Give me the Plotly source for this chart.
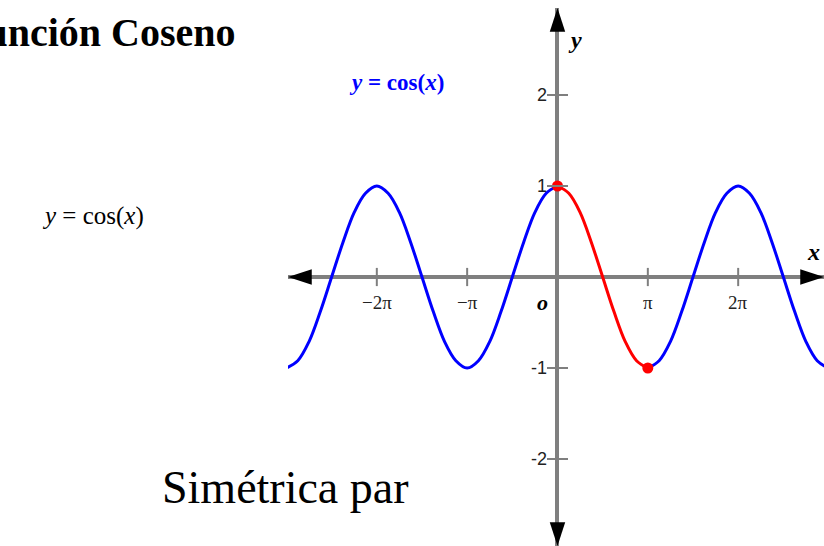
import plotly.graph_objects as go

# ---- data (x in units of π) ----
left_x = [-3, -2.875, -2.75, -2.625, -2.5, -2.375, -2.25, -2.125, -2,
          -1.875, -1.75, -1.625, -1.5, -1.375, -1.25, -1.125, -1,
          -0.875, -0.75, -0.625, -0.5, -0.375, -0.25, -0.125, 0]
left_y = [-1, -0.92, -0.71, -0.38, 0, 0.38, 0.71, 0.92, 1,
          0.92, 0.71, 0.38, 0, -0.38, -0.71, -0.92, -1,
          -0.92, -0.71, -0.38, 0, 0.38, 0.71, 0.92, 1]
red_x = [0, 0.125, 0.25, 0.375, 0.5, 0.625, 0.75, 0.875, 1]
red_y = [1, 0.92, 0.71, 0.38, 0, -0.38, -0.71, -0.92, -1]
right_x = [1, 1.125, 1.25, 1.375, 1.5, 1.625, 1.75, 1.875, 2,
           2.125, 2.25, 2.375, 2.5, 2.625, 2.75, 2.875, 3]
right_y = [-1, -0.92, -0.71, -0.38, 0, 0.38, 0.71, 0.92, 1,
           0.92, 0.71, 0.38, 0, -0.38, -0.71, -0.92, -1]
dot_x = [0, 1]
dot_y = [1, -1]
xtick_vals = [-2, -1, 1, 2]
xtick_labels = ["−2π", "−π", "π", "2π"]
ytick_vals = [2, 1, -1, -2]
ytick_labels = ["2", "1", "-1", "-2"]
x_range = [-2.983, 2.95]
y_range = [-2.956, 2.956]
arrow_x = [x_range[0], x_range[1], 0, 0]
arrow_y = [0, 0, y_range[1], y_range[0]]
arrow_angle = [270, 90, 0, 180]

W, H = 824, 546
SERIF = "Liberation Serif, Times New Roman, serif"
SANS = "Liberation Sans, Arial, sans-serif"
AXIS_GREY = "#7f7f7f"
BLUE = "#0000ff"
RED = "#ff0000"


def px(x):
    return x / W


def py(y):
    return 1 - y / H


fig = go.Figure()

for xs, ys, col in [(left_x, left_y, BLUE), (right_x, right_y, BLUE), (red_x, red_y, RED)]:
    fig.add_trace(go.Scatter(x=xs, y=ys, mode="lines",
                             line=dict(color=col, width=3, shape="spline"),
                             hoverinfo="skip"))
fig.add_trace(go.Scatter(x=dot_x, y=dot_y, mode="markers",
                         marker=dict(color=RED, size=11),
                         hoverinfo="skip"))
# tick marks crossing the axes
fig.add_trace(go.Scatter(x=xtick_vals, y=[0] * len(xtick_vals), mode="markers",
                         marker=dict(symbol="line-ns", size=13,
                                     line=dict(color=AXIS_GREY, width=2)),
                         hoverinfo="skip"))
fig.add_trace(go.Scatter(x=[0] * len(ytick_vals), y=ytick_vals, mode="markers",
                         marker=dict(symbol="line-ew", size=15,
                                     line=dict(color=AXIS_GREY, width=2)),
                         hoverinfo="skip"))
# arrow heads at the axis ends
fig.add_trace(go.Scatter(x=arrow_x, y=arrow_y, mode="markers",
                         marker=dict(symbol="arrow", size=25, angle=arrow_angle,
                                     color="black", line=dict(width=0)),
                         cliponaxis=False, hoverinfo="skip"))

annotations = []
for v, t in zip(xtick_vals, xtick_labels):
    annotations.append(dict(x=v, y=0, xref="x", yref="y", text=t, showarrow=False,
                            xanchor="center", yanchor="middle",
                            yshift=-25, font=dict(family=SERIF, size=19, color="#222")))
for v, t in zip(ytick_vals, ytick_labels):
    annotations.append(dict(x=0, y=v, xref="x", yref="y", text=t, showarrow=False,
                            xanchor="right", yanchor="middle", xshift=-8,
                            font=dict(family=SANS, size=18, color="#222")))


def label(x, y, text, size, color="black", xanchor="center"):
    return dict(x=px(x), y=py(y), xref="paper", yref="paper", text=text,
                showarrow=False, xanchor=xanchor, yanchor="middle",
                font=dict(family=SERIF, size=size, color=color))


annotations += [
    label(542, 302, "<b><i>o</i></b>", 22),
    label(813, 252, "<b><i>x</i></b>", 24),
    label(575, 40, "<b><i>y</i></b>", 24),
    label(396, 82, "<b><i>y</i> = cos(<i>x</i>)</b>", 23, BLUE),
    label(238, 32, "<b>Función Coseno</b>", 40, xanchor="right"),
    label(40, 216, "<i>y</i> = cos(<i>x</i>)", 25, xanchor="left"),
    label(160, 487, "Simétrica par", 46, xanchor="left"),
]

fig.update_layout(
    width=W, height=H,
    margin=dict(l=0, r=0, t=0, b=0),
    paper_bgcolor="white", plot_bgcolor="white",
    showlegend=False, hovermode=False,
    annotations=annotations,
    xaxis=dict(domain=[288 / W, 1], range=x_range, showgrid=False,
               showticklabels=False, ticks="", showline=False,
               zeroline=True, zerolinecolor=AXIS_GREY, zerolinewidth=3.5,
               fixedrange=True),
    yaxis=dict(domain=[0, (H - 8) / H], range=y_range, showgrid=False,
               showticklabels=False, ticks="", showline=False,
               zeroline=True, zerolinecolor=AXIS_GREY, zerolinewidth=3.5,
               fixedrange=True),
)

fig.write_html("out.html", config={"displayModeBar": False},
               post_script="document.body.style.margin='0';document.body.style.overflow='hidden';")
